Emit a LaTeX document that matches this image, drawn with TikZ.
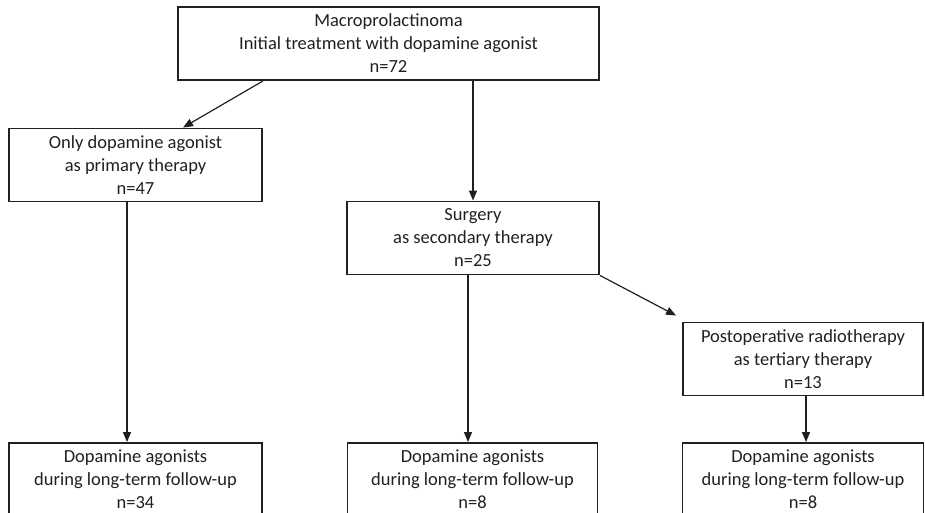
\documentclass[tikz,border=0pt]{standalone}
\usepackage{fontspec}
\setmainfont{Carlito}
\usetikzlibrary{arrows.meta,positioning}
\definecolor{lineGray}{HTML}{231F20}

\begin{document}
\begin{tikzpicture}[x=1pt,y=-1pt,
  font=\fontsize{18.5}{23}\selectfont,
  box/.style={draw=lineGray, line width=1.9pt, align=center, inner sep=0pt,
    minimum width=#1, minimum height=73pt, text=lineGray},
  arr/.style={-{Triangle[length=10pt,width=8pt]}, line width=1.2pt, lineGray}
]
\useasboundingbox (0,0) rectangle (925,513);
\clip (0,0) rectangle (925,513);
% treatment stages
\node[box=421pt] (macro) at (388.5,43.5) {Macroprolactinoma\\Initial treatment with dopamine agonist\\n=72};
\node[box=253pt] (only) at (135.5,165) {Only dopamine agonist\\as primary therapy\\n=47};
\node[box=252pt] (surg) at (473,238) {Surgery\\as secondary therapy\\n=25};
\node[box=240pt] (postop) at (803,359) {Postoperative radiotherapy\\as tertiary therapy\\n=13};
% long-term follow-up
\node[box=253pt] (fuOnly) at (135.5,479.5) {Dopamine agonists\\during long-term follow-up\\n=34};
\node[box=250pt] (fuSurg) at (472.5,479.5) {Dopamine agonists\\during long-term follow-up\\n=8};
\node[box=241pt] (fuPost) at (803,479.5) {Dopamine agonists\\during long-term follow-up\\n=8};
\draw[arr] ([xshift=-125.5pt]macro.south) -- ([xshift=47.5pt]only.north);
\draw[arr] (surg.north |- macro.south) -- (surg.north);
\draw[arr] ([xshift=-8.5pt]only.south) -- ([xshift=-8.5pt]fuOnly.north);
\draw[arr] ([xshift=-5pt]surg.south) -- ([xshift=-4.5pt]fuSurg.north);
\draw[arr] (surg.south east) -- ([xshift=-6pt,yshift=6pt]postop.north west);
\draw[arr] ([xshift=3pt]postop.south) -- ([xshift=3pt]fuPost.north);
\end{tikzpicture}
\end{document}
